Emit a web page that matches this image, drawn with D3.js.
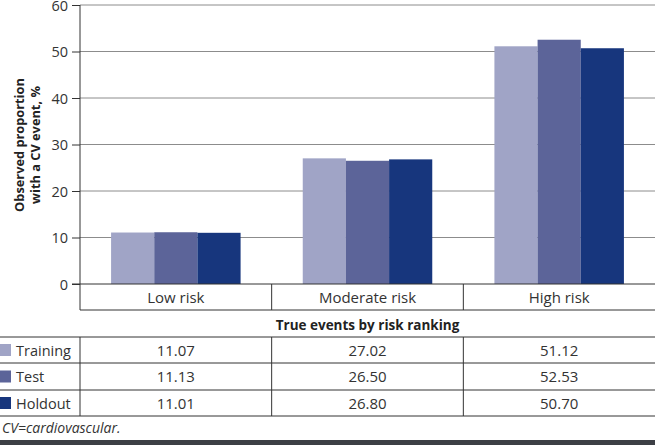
<!DOCTYPE html>
<html><head><meta charset="utf-8">
<script src="https://cdn.jsdelivr.net/npm/d3@7"></script>
<style>
body{margin:0;background:#fff;}
svg{display:block;font-family:"Open Sans","Noto Sans",sans-serif;}
</style></head>
<body>
<svg id="c" width="655" height="445"></svg>
<script>
const categories = ["Low risk", "Moderate risk", "High risk"];
const seriesNames = ["Training", "Test", "Holdout"];
const training = [11.07, 27.02, 51.12];
const test = [11.13, 26.50, 52.53];
const holdout = [11.01, 26.80, 50.70];
const yTicks = [0, 10, 20, 30, 40, 50, 60];
const colors = ["#a0a4c6", "#5c6499", "#17367d"];
const seriesValues = [training, test, holdout];

(function () {
const svg = d3.select("#c");
const pl = 80, pr = 655, pt = 5, pb = 284;
const ink = "#333";

const x = d3.scaleBand().domain(categories).range([pl, pr]);
const xs = d3.scaleBand().domain(seriesNames).range([0, x.bandwidth()]).paddingOuter(0.72).paddingInner(0);
const y = d3.scaleLinear().domain([0, 60]).range([pb, pt]);

// grid
svg.append("g").selectAll("line").data(yTicks.filter(d => d > 0)).join("line")
  .attr("x1", pl).attr("x2", pr).attr("y1", d => y(d)).attr("y2", d => y(d))
  .attr("stroke", "#8c8c8c").attr("stroke-width", 1);

// bars
const g = svg.append("g");
categories.forEach((c, ci) => {
  seriesNames.forEach((s, si) => {
    const v = seriesValues[si][ci];
    g.append("rect")
      .attr("x", x(c) + xs(s)).attr("width", xs.bandwidth())
      .attr("y", y(v)).attr("height", y(0) - y(v))
      .attr("fill", colors[si]);
  });
});

// y axis
const yAxis = d3.axisLeft(y).tickValues(yTicks).tickSize(8).tickPadding(4);
const ya = svg.append("g").attr("transform", `translate(${pl},0)`).call(yAxis);
ya.select(".domain").remove();
ya.selectAll("line").attr("stroke", ink);
ya.selectAll("text").attr("font-size", 14.5).attr("fill", ink).attr("font-family", "'Open Sans',sans-serif").attr("dy", "0.36em");
svg.append("line").attr("x1", pl).attr("x2", pl).attr("y1", pt).attr("y2", 310).attr("stroke", ink);
svg.append("line").attr("x1", pl - 8).attr("x2", pr).attr("y1", pb).attr("y2", pb).attr("stroke", ink);

// category row
svg.append("line").attr("x1", pl).attr("x2", pr).attr("y1", 310).attr("y2", 310).attr("stroke", ink);
categories.forEach((c, i) => {
  if (i > 0) svg.append("line").attr("x1", x(c)).attr("x2", x(c)).attr("y1", pb).attr("y2", 310).attr("stroke", ink);
  svg.append("text").attr("x", x(c) + x.bandwidth() / 2).attr("y", 303)
    .attr("text-anchor", "middle").attr("font-size", 15).attr("fill", ink).text(c);
});

svg.append("text").attr("x", x(categories[1]) + x.bandwidth() / 2).attr("y", 330)
  .attr("text-anchor", "middle").attr("font-size", 13.5).attr("font-weight", "bold").attr("fill", "#222")
  .text("True events by risk ranking");

// y title
const yt = svg.append("text").attr("transform", "translate(24,145) rotate(-90)")
  .attr("text-anchor", "middle").attr("font-size", 12.8).attr("font-weight", "bold").attr("fill", "#222");
yt.append("tspan").attr("x", 0).attr("dy", 0).text("Observed proportion");
yt.append("tspan").attr("x", 0).attr("dy", 16).text("with a CV event, %");

// data table
const rowY = [337, 363, 390, 416];
rowY.forEach(r => svg.append("line").attr("x1", 0).attr("x2", pr).attr("y1", r).attr("y2", r).attr("stroke", ink));
[pl, x(categories[1]), x(categories[2])].forEach(xx =>
  svg.append("line").attr("x1", xx).attr("x2", xx).attr("y1", rowY[0]).attr("y2", rowY[3]).attr("stroke", ink));
seriesNames.forEach((s, si) => {
  const cy = (rowY[si] + rowY[si + 1]) / 2;
  svg.append("rect").attr("x", 0).attr("y", cy - 6).attr("width", 11).attr("height", 12).attr("fill", colors[si]);
  svg.append("text").attr("x", 16).attr("y", cy + 5.5).attr("font-size", 14.5).attr("fill", ink).text(s);
  categories.forEach((c, ci) => {
    svg.append("text").attr("x", x(c) + x.bandwidth() / 2).attr("y", cy + 5.5)
      .attr("text-anchor", "middle").attr("font-size", 15).attr("fill", ink)
      .text(seriesValues[si][ci].toFixed(2));
  });
});

// footnote
svg.append("text").attr("x", 2).attr("y", 433).attr("font-size", 14).attr("font-style", "italic").attr("fill", ink)
  .text("CV=cardiovascular.");
svg.append("rect").attr("x", 0).attr("y", 440).attr("width", 655).attr("height", 5).attr("fill", "#3c3f45");
})();
</script>
</body></html>
